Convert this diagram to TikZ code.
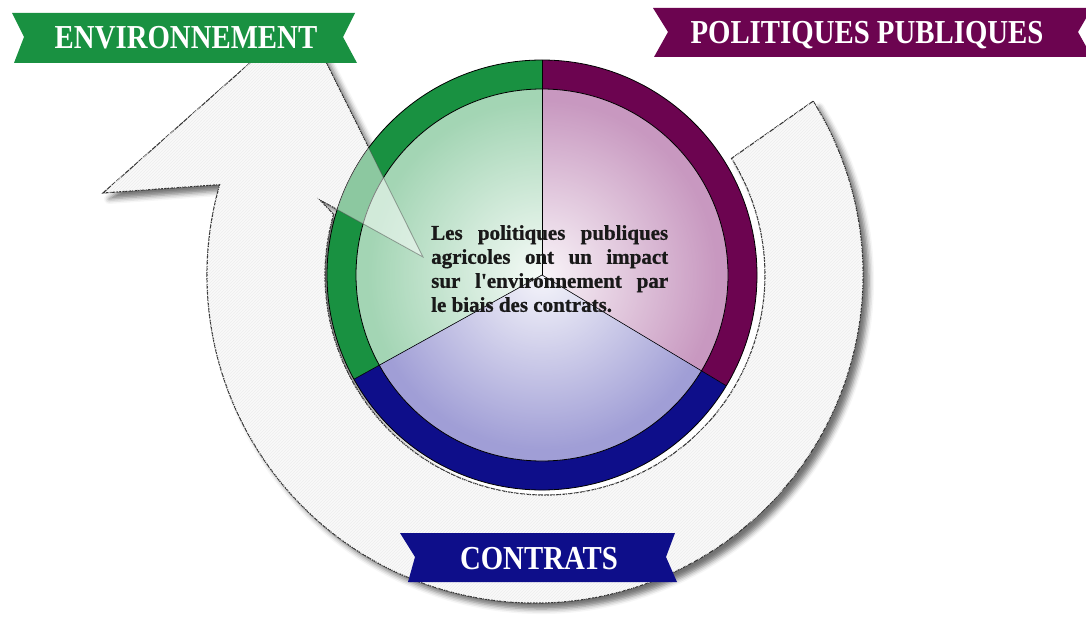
\documentclass[tikz,border=0pt]{standalone}
\usepackage{fontspec}
\setmainfont{Liberation Serif}
\newfontfamily\bannerfont[FakeStretch=0.86]{Liberation Serif}
\newfontfamily\msgfont[BoldFeatures={FakeBold=0.8}]{Liberation Serif}
\usetikzlibrary{shadows.blur,fadings,patterns}
\definecolor{envgreen}{RGB}{25,145,65}
\definecolor{polpurple}{RGB}{108,4,80}
\definecolor{conblue}{RGB}{14,14,138}
\definecolor{envlight}{RGB}{163,213,180}
\definecolor{pollight}{RGB}{200,152,192}
\definecolor{conlight}{RGB}{160,158,214}
\tikzfading[name=centrewash, inner color=transparent!0, outer color=transparent!100]
\tikzset{
    ribbontext/.style={text=white, inner sep=0pt, text depth=0pt,
    	font=\bannerfont\bfseries\fontsize{33.5}{33.5}\selectfont}
}
\tikzset{
    arrowbody/.style={fill=gray!5, draw=black!80, line width=1.1pt,
    	dash pattern=on 5pt off 1pt,
    	blur shadow={shadow xshift=6pt, shadow yshift=-6pt,
    		shadow blur radius=5pt, shadow opacity=55}}
}
\tikzset{
    msgtext/.style={anchor=north west, inner sep=0pt, align=left,
    	text=black!90, font=\msgfont\bfseries\fontsize{21}{24}\selectfont}
}
% outline of the grey cycle arrow
\newcommand{\cyclearrow}{([shift={(hubout)}]32:328)
  arc[start angle=32, end angle=-196, radius=328]
  -- (103,429) -- (303,606) -- (423,365) -- (320,422)
  -- ([shift={(hubin)}]-196:220) arc[start angle=-196, end angle=32, radius=220] -- cycle}

\begin{document}
\begin{tikzpicture}[x=1pt, y=1pt]
  \useasboundingbox (0,0) rectangle (1086,622);
  \coordinate (mid) at (542,347);
  \coordinate (hubout) at (535,347);
  \coordinate (hubin) at (545,347);

  % grey arrow
  \path[arrowbody] \cyclearrow;
  \fill[pattern=north east lines, pattern color=gray!13] \cyclearrow;

  % three sectors
  \foreach \a/\b/\ring/\light in {90/209/envgreen/envlight,
      -31/90/polpurple/pollight, 209/329/conblue/conlight} {
    \fill[\ring] (mid) -- ++(\a:215) arc[start angle=\a, end angle=\b, radius=215] -- cycle;
    \fill[\light] (mid) -- ++(\a:186) arc[start angle=\a, end angle=\b, radius=186] -- cycle;
  }
  \fill[white, path fading=centrewash, fill opacity=0.9] (mid) circle (175);
  \foreach \a in {90,209,329}
    \draw[line width=0.6pt] (mid) -- ++(\a:215);
  \draw[line width=0.8pt] (mid) circle (215) (mid) circle (186);

  % arrow head seen through
  \begin{scope}
    \clip (mid) circle (215);
    \fill[white, fill opacity=0.5] \cyclearrow;
    \draw[black!70, draw opacity=0.5, line width=0.8pt] \cyclearrow;
  \end{scope}

  \node (msg) [msgtext] at (431,397) {\makebox[237pt][s]{Les politiques publiques}\\
    \makebox[237pt][s]{agricoles ont un impact}\\
    \makebox[237pt][s]{sur l\textquotesingle environnement par}\\
    le biais des contrats.};

  % ribbons
  \fill[envgreen] (12,609) -- (355,609) -- (343,585) -- (357,559) -- (14,559) -- (24,585) -- cycle;
  \node (env) [ribbontext] at (186,585) {ENVIRONNEMENT};
  \fill[polpurple] (653,614) -- (1092,614) -- (1078,590) -- (1092,565) -- (654,565) -- (668,590) -- cycle;
  \node (pol) [ribbontext] at (867,590) {POLITIQUES PUBLIQUES};
  \fill[conblue] (400,89) -- (675,89) -- (666,65) -- (677,40) -- (408,40) -- (415,65) -- cycle;
  \node (con) [ribbontext] at (539,64) {CONTRATS};
\end{tikzpicture}
\end{document}
